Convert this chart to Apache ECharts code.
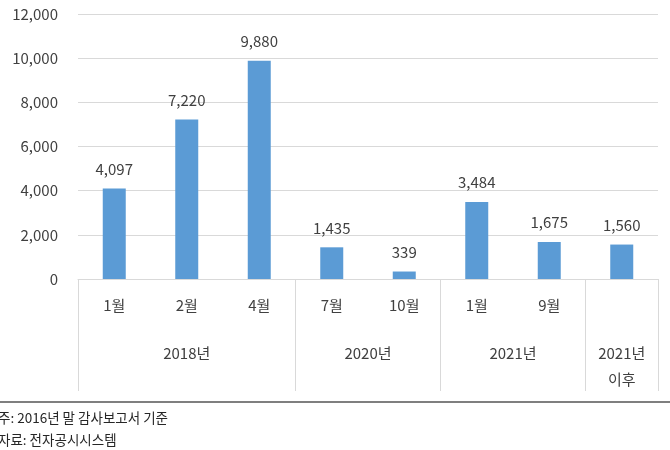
<!DOCTYPE html>
<html><head><meta charset="utf-8">
<script src="https://cdn.jsdelivr.net/npm/echarts@6/dist/echarts.min.js"></script>
<style>html,body{margin:0;padding:0;background:#fff}#c{width:670px;height:450px}</style>
</head><body><div id="c"></div>
<script>
const months = ['1월','2월','4월','7월','10월','1월','9월',''];
const values = [4097, 7220, 9880, 1435, 339, 3484, 1675, 1560];
const yearLabels = ['2018년','2020년','2021년','2021년\n이후'];
const yearCenters = [1.5, 4, 6, 7.5];
const groupBounds = [0, 3, 5, 7, 8];
const yTicks = [0, 2000, 4000, 6000, 8000, 10000, 12000];
const notes = ['주: 2016년 말 감사보고서 기준', '자료: 전자공시시스템'];

const FONT = '"Noto Sans CJK KR", "Noto Sans", sans-serif';
const TXT = '#404040';
const chart = echarts.init(document.getElementById('c'));
chart.setOption({
  animation: false,
  textStyle: {fontFamily: FONT},
  grid: {left: 78, right: 12, top: 14, bottom: 171, containLabel: false},
  xAxis: [{
    type: 'category', data: months,
    axisLine: {show: true, lineStyle: {color: '#d9d9d9', width: 1}},
    axisTick: {show: false},
    axisLabel: {color: TXT, fontSize: 15, margin: 19, fontFamily: FONT, interval: 0}
  }, {
    type: 'value', min: 0, max: 8, position: 'bottom',
    axisLine: {show: false},
    splitLine: {show: false},
    axisTick: {show: true, length: 112, customValues: groupBounds, lineStyle: {color: '#d9d9d9', width: 1}},
    axisLabel: {show: true, customValues: yearCenters, color: TXT, fontSize: 15, margin: 61, lineHeight: 26, fontFamily: FONT,
      formatter: function (v) { const i = yearCenters.indexOf(v); return i >= 0 ? yearLabels[i] : ''; }}
  }],
  yAxis: {
    type: 'value', min: 0, max: 12000, interval: 2000,
    axisLine: {show: false}, axisTick: {show: false},
    splitLine: {lineStyle: {color: '#d9d9d9', width: 1}},
    axisLabel: {color: TXT, fontSize: 15, margin: 20, fontFamily: FONT,
      formatter: function (v) { return v.toLocaleString('en-US'); }}
  },
  series: [{
    type: 'bar', data: values, barWidth: 23, xAxisIndex: 0,
    itemStyle: {color: '#5b9bd5'},
    label: {show: true, position: 'top', distance: 12, color: TXT, fontSize: 15, fontFamily: FONT,
      formatter: function (p) { return p.value.toLocaleString('en-US'); }}
  }],
  graphic: [
    {type: 'line', shape: {x1: 0, y1: 402, x2: 670, y2: 402}, style: {stroke: '#7f7f7f', lineWidth: 2}},
    {type: 'text', left: -2, top: 411, style: {text: notes[0], fill: '#262626', font: '13.5px ' + FONT}},
    {type: 'text', left: -2, top: 433, style: {text: notes[1], fill: '#262626', font: '13.5px ' + FONT}}
  ]
});
</script></body></html>
